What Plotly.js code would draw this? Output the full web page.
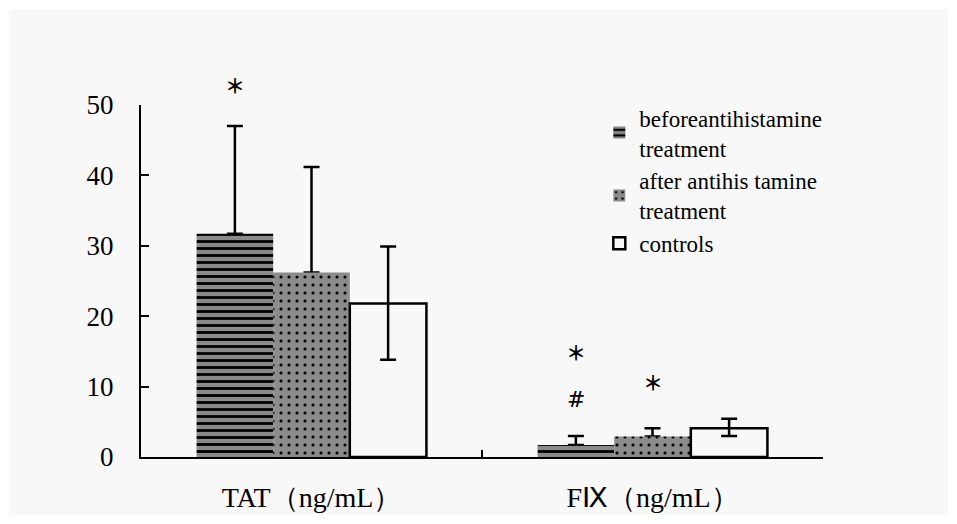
<!DOCTYPE html>
<html>
<head>
<meta charset="utf-8">
<script src="https://cdn.plot.ly/plotly-3.0.1.min.js"></script>
<style>
html,body{margin:0;padding:0;background:#ffffff;}
#chart{position:absolute;left:9px;top:9px;width:939px;height:506px;}
</style>
</head>
<body>
<div id="chart"></div>
<script>
// ---- data ----
const categories = ["TAT（ng/mL）", "FⅨ（ng/mL）"];
const seriesNames = ["beforeantihistamine<br>treatment", "after antihis tamine<br>treatment", "controls"];
const beforeVals = [31.7, 1.7];
const beforeErrPlus = [15.3, 1.3];
const afterVals = [26.2, 2.9];
const afterErrPlus = [15.0, 1.2];
const controlVals = [21.8, 4.1];
const controlErrPlus = [8.1, 1.35];
const controlErrMinus = [8.0, 1.1];
const yTicks = [0, 10, 20, 30, 40, 50];
// significance marks: [category index, series index, y value, text]
const marks = [
  [0, 0, 52.8, "＊"],
  [1, 0, 14.9, "＊"],
  [1, 0, 8.2, "#"],
  [1, 1, 10.6, "＊"]
];

const BG = "#f8f8f8";
const bargap = 0.326;
const serif = "Liberation Serif, serif";
const yMax = 50;

const zeros = categories.map(() => 0);
const errStyle = {color: "#000", thickness: 2.5, width: 8};

const traces = [
  { // error bar under "before" bars (only the upper part is visible)
    type: "bar", x: categories, y: beforeVals, offsetgroup: "b",
    marker: {color: "rgba(0,0,0,0)", line: {width: 0}},
    error_y: Object.assign({type: "data", symmetric: false, array: beforeErrPlus, arrayminus: zeros}, errStyle),
    showlegend: false, hoverinfo: "skip"
  },
  {
    type: "bar", x: categories, y: afterVals, offsetgroup: "a",
    marker: {color: "rgba(0,0,0,0)", line: {width: 0}},
    error_y: Object.assign({type: "data", symmetric: false, array: afterErrPlus, arrayminus: zeros}, errStyle),
    showlegend: false, hoverinfo: "skip"
  },
  {
    type: "bar", name: seriesNames[0], x: categories, y: beforeVals, offsetgroup: "b",
    marker: {color: "#8a8a8a", line: {width: 0},
      pattern: {shape: "-", fgcolor: "#000000", bgcolor: "#8a8a8a", size: 7, solidity: 0.4}}
  },
  {
    type: "bar", name: seriesNames[1], x: categories, y: afterVals, offsetgroup: "a",
    marker: {color: "#8c8c8c", line: {width: 0},
      pattern: {shape: ".", fgcolor: "#000000", bgcolor: "#8c8c8c", size: 8, solidity: 0.12}}
  },
  {
    type: "bar", name: seriesNames[2], x: categories, y: controlVals, offsetgroup: "c",
    marker: {color: BG, line: {width: 2.5, color: "#000"}},
    error_y: Object.assign({type: "data", symmetric: false, array: controlErrPlus, arrayminus: controlErrMinus}, errStyle)
  }
];

const nSeries = 3;
const barW = (1 - bargap) / nSeries;
const annotations = marks.map(m => ({
  x: m[0] + (m[1] - (nSeries - 1) / 2) * barW,
  y: m[2] / yMax, xref: "x", yref: "paper", text: m[3], showarrow: false,
  xanchor: "center", yanchor: "middle",
  font: m[3] === "#"
    ? {family: "DejaVu Serif", size: 22, color: "#000"}
    : {family: "Noto Sans CJK SC", size: 20, color: "#000", weight: "bold"}
}));

const layout = {
  width: 939, height: 506,
  paper_bgcolor: BG, plot_bgcolor: BG,
  margin: {l: 132, r: 125, t: 96, b: 58, pad: 0},
  barmode: "group", bargap: bargap, bargroupgap: 0,
  showlegend: true,
  legend: {
    x: 0.672, y: 1.025, xanchor: "left", yanchor: "top",
    bgcolor: "rgba(0,0,0,0)", borderwidth: 0,
    font: {family: serif, size: 23, color: "#000"},
    traceorder: "normal", itemclick: false
  },
  xaxis: {
    type: "category", range: [-0.5, 1.5],
    showline: true, linecolor: "#000", linewidth: 2,
    ticks: "inside", tickson: "boundaries", ticklen: 7, tickwidth: 2, tickcolor: "#000",
    showgrid: false, zeroline: false,
    tickfont: {family: serif, size: 28, color: "#000"},
    ticklabelstandoff: 14
  },
  yaxis: {
    range: [0, yMax], tickvals: yTicks, ticktext: yTicks.map(String),
    showline: true, linecolor: "#000", linewidth: 2,
    ticks: "inside", ticklen: 8, tickwidth: 2, tickcolor: "#000",
    showgrid: false, zeroline: false,
    tickfont: {family: serif, size: 27, color: "#000"},
    ticklabelstandoff: 20
  },
  annotations: annotations
};

Plotly.newPlot("chart", traces, layout, {displayModeBar: false, staticPlot: true});
</script>
</body>
</html>
